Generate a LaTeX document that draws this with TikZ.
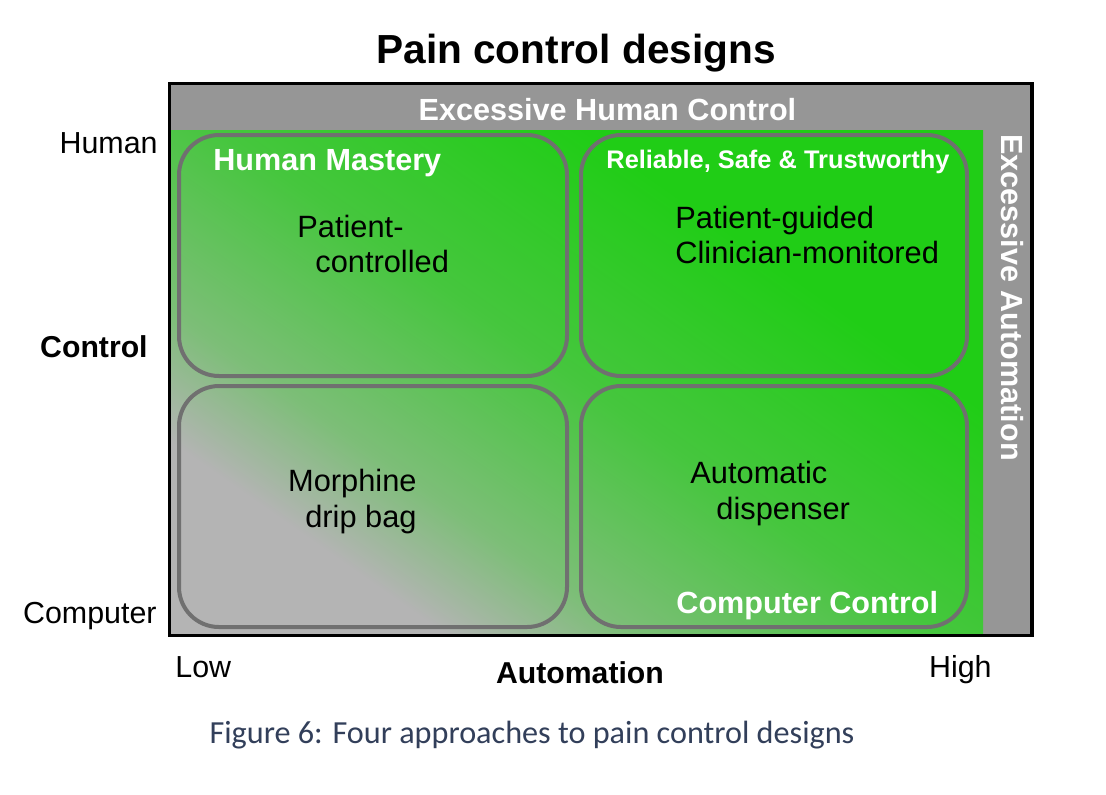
\documentclass[tikz,border=0pt]{standalone}
\usepackage{fontspec}
\setmainfont{Liberation Sans}
\newfontfamily\capfont{Carlito}
\definecolor{pcgray}{RGB}{180,180,180}
\definecolor{pcmid}{RGB}{125,190,120}
\definecolor{pcgreentwo}{RGB}{70,198,62}
\definecolor{pcgreen}{RGB}{32,205,22}
\definecolor{bandgray}{RGB}{150,150,150}
\definecolor{boxline}{RGB}{112,112,112}
\definecolor{captionc}{RGB}{50,63,90}
\pgfdeclareverticalshading{pcshade}{100bp}{color(0bp)=(pcgray); color(34bp)=(pcgray); color(40bp)=(pcmid); color(50bp)=(pcgreentwo); color(62bp)=(pcgreen); color(100bp)=(pcgreen)}
\begin{document}
\begin{tikzpicture}[x=0.5pt,y=-0.5pt,
  quad/.style={draw=boxline, line width=2pt, rounded corners=20pt, inner sep=0pt, outer sep=0pt,
    minimum height=120.5pt},
  bandlabel/.style={font=\bfseries\fontsize{15.3}{18}\selectfont, text=white, inner sep=0pt},
  rstlabel/.style={font=\bfseries\fontsize{12.7}{15}\selectfont, text=white, inner sep=0pt},
  body/.style={font=\fontsize{15.4}{17.75}\selectfont, inner sep=0pt},
  axislabel/.style={font=\fontsize{15.2}{18}\selectfont, inner sep=0pt},
  axisbold/.style={font=\bfseries\fontsize{15.1}{18}\selectfont, inner sep=0pt}
]
\useasboundingbox[fill=white] (0,0) rectangle (1106,794);
% frame and bands
\fill[bandgray] (169.5,83.5) rectangle (1032,635.5);
\begin{scope}
  \clip (169.5,130) rectangle (983,635.5);
  \shade[shading=pcshade, shading angle=-35] (136.5,-57.5) rectangle (1016.5,822.5);
\end{scope}
\draw[line width=1.75pt] (169.5,83.5) rectangle (1032,635.5);
% quadrants
\node[quad, minimum width=194pt] (tl) at (373,255.5) {};
\node[quad, minimum width=193pt] (tr) at (774,255.5) {};
\node[quad, minimum width=194pt] (bl) at (373,506.5) {};
\node[quad, minimum width=193pt] (br) at (774,506.5) {};
% title
\node[font=\bfseries\fontsize{20.3}{24}\selectfont, anchor=base, inner sep=0pt] (title) at (576,63) {Pain control designs};
% band labels
\node[bandlabel, anchor=base] (ehc) at (607.5,120) {Excessive Human Control};
\node[bandlabel, anchor=base, rotate=-90] (ea) at (1001,297.5) {Excessive Automation};
\node[bandlabel, anchor=base west] (hm) at (213,170) {Human Mastery};
\node[rstlabel, anchor=base west] (rst) at (606,168) {Reliable, Safe \& Trustworthy};
\node[bandlabel, anchor=base west] (cc) at (676,613) {Computer Control};
% quadrant texts (base anchor = last line)
\node[body, align=left, anchor=base west] (pc) at (297,272.5) {Patient-\\\hspace*{9pt}controlled};
\node[body, align=left, anchor=base west] (pg) at (675,263.5) {Patient-guided\\Clinician-monitored};
\node[body, align=right, anchor=base east] (mdb) at (417,527) {Morphine\\drip bag};
\node[body, align=left, anchor=base west] (ad) at (690,519) {Automatic\\\hspace*{13pt}dispenser};
% axes
\node[axislabel, anchor=base east] (human) at (158,153) {Human};
\node[axisbold, anchor=base east] (control) at (148,357) {Control};
\node[axislabel, anchor=base east] (computer) at (157,623) {Computer};
\node[axislabel, anchor=base west] (low) at (175,677) {Low};
\node[axisbold, anchor=base] (automation) at (580,683) {Automation};
\node[axislabel, anchor=base east] (high) at (992,677) {High};
% caption
\node[font=\capfont\fontsize{16.1}{19}\selectfont, text=captionc, anchor=base, inner sep=0pt] (caption) at (532,743) {Figure 6: Four approaches to pain control designs};
\end{tikzpicture}
\end{document}
